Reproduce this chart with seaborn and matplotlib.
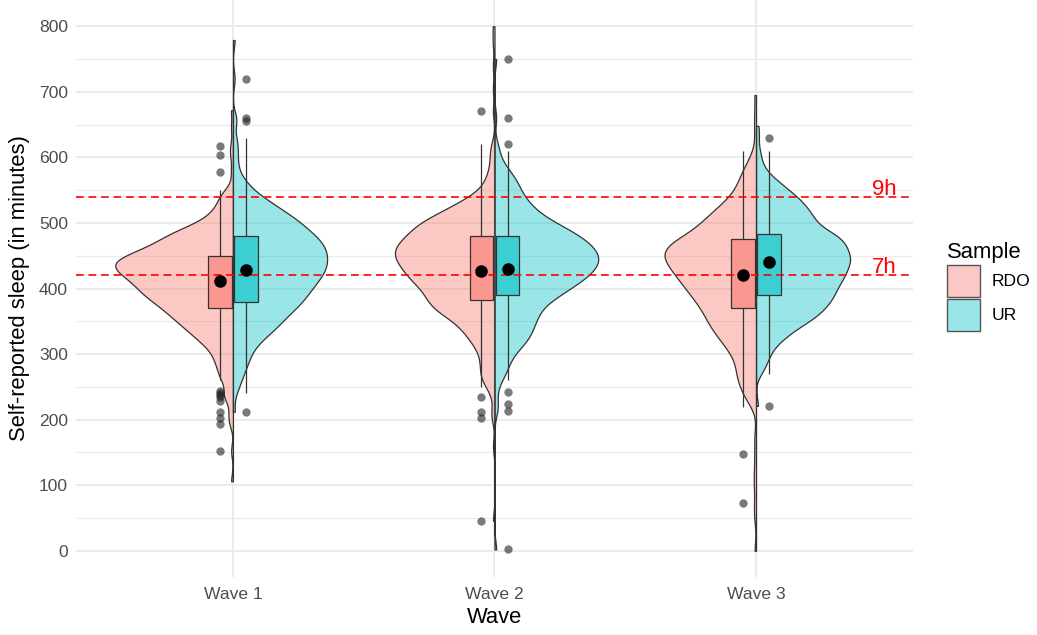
import matplotlib
matplotlib.use("Agg")
import matplotlib.pyplot as plt
from matplotlib.patches import Patch
from matplotlib.ticker import MultipleLocator
import numpy as np
import pandas as pd
import seaborn as sns

waves = ["Wave 1", "Wave 2", "Wave 3"]
samples = ["RDO", "UR"]

# sleep minutes (bin values) and how many answers fall on each
grid = [210, 220, 230, 240, 250, 260, 270, 280, 290, 300, 310, 320, 330, 340, 350,
        360, 370, 380, 390, 400, 410, 420, 430, 440, 450, 460, 470, 480, 490, 500,
        510, 520, 530, 540, 550, 560, 570, 580, 590, 600, 610, 620, 630]

w1_rdo = [0, 0, 0, 0, 0, 3, 3, 3, 4, 4, 5, 7, 8, 10, 11, 13, 14, 16, 18, 19, 20, 22,
          24, 25, 22, 18, 15, 14, 11, 7, 5, 4, 3, 3, 2, 0, 0, 0, 0, 0, 0, 0, 0]
w1_ur = [0, 0, 0, 1, 1, 2, 2, 3, 3, 4, 4, 6, 7, 9, 10, 11, 13, 14, 15, 16, 17, 18,
         19, 19, 19, 19, 18, 17, 15, 14, 12, 10, 8, 6, 4, 3, 2, 1, 1, 1, 1, 1, 1]
w2_rdo = [0, 0, 0, 0, 2, 3, 3, 3, 3, 3, 4, 5, 6, 7, 8, 11, 13, 14, 14, 15, 17, 18,
          19, 20, 21, 21, 20, 18, 17, 16, 13, 10, 8, 5, 3, 2, 2, 1, 1, 1, 1, 1, 0]
w2_ur = [0, 0, 0, 0, 0, 2, 2, 3, 3, 4, 5, 7, 7, 8, 8, 9, 9, 11, 13, 15, 17, 19,
         20, 21, 21, 20, 19, 17, 15, 12, 10, 8, 7, 6, 5, 5, 4, 3, 2, 1, 1, 0, 0]
w3_rdo = [0, 1, 2, 3, 3, 4, 4, 4, 4, 5, 6, 7, 8, 9, 10, 10, 11, 12, 13, 14, 15, 16,
          17, 18, 19, 19, 18, 14, 12, 11, 10, 8, 7, 5, 4, 4, 3, 3, 2, 1, 1, 0, 0]
w3_ur = [0, 0, 0, 0, 0, 0, 1, 2, 2, 3, 3, 5, 6, 8, 10, 12, 13, 14, 15, 15, 16, 17,
         17, 18, 18, 17, 17, 16, 13, 11, 11, 10, 9, 8, 6, 5, 3, 2, 1, 1, 1, 0, 0]

# single extreme answers (drawn as box outliers)
w1_rdo_out = [152, 193, 203, 212, 229, 234, 238, 241, 244, 578, 603, 617]
w1_ur_out = [212, 655, 660, 720]
w2_rdo_out = [46, 203, 211, 234, 670]
w2_ur_out = [2, 213, 224, 242, 621, 660, 750]
w3_rdo_out = [73, 147]
w3_ur_out = [221, 630]

# far tails only seen in the violins
w1_rdo_tail = [106, 645, 672]
w1_ur_tail = [779]
w2_rdo_tail = [160, 705, 740, 775, 800]
w2_ur_tail = []
w3_rdo_tail = [0, 50, 100, 120, 175, 640, 665, 695]
w3_ur_tail = [648]

mean_rdo = [411, 427, 420]
mean_ur = [428, 429, 440]

groups = [
    ("Wave 1", "RDO", w1_rdo, w1_rdo_out, w1_rdo_tail),
    ("Wave 1", "UR", w1_ur, w1_ur_out, w1_ur_tail),
    ("Wave 2", "RDO", w2_rdo, w2_rdo_out, w2_rdo_tail),
    ("Wave 2", "UR", w2_ur, w2_ur_out, w2_ur_tail),
    ("Wave 3", "RDO", w3_rdo, w3_rdo_out, w3_rdo_tail),
    ("Wave 3", "UR", w3_ur, w3_ur_out, w3_ur_tail),
]

box_parts, vio_parts = [], []
for wave, sample, counts, out, tail in groups:
    vals = np.concatenate([np.repeat(grid, counts), out]).astype(float)
    box_parts.append(pd.DataFrame({"Wave": wave, "Sample": sample, "minutes": vals}))
    vals = np.concatenate([vals, tail]).astype(float)
    vio_parts.append(pd.DataFrame({"Wave": wave, "Sample": sample, "minutes": vals}))
box_df = pd.concat(box_parts, ignore_index=True)
vio_df = pd.concat(vio_parts, ignore_index=True)
means_df = pd.DataFrame({"Wave": waves * 2,
                         "Sample": ["RDO"] * 3 + ["UR"] * 3,
                         "mean": mean_rdo + mean_ur})

plt.rcParams['font.family'] = ['Liberation Sans', 'DejaVu Sans']

fig = plt.figure(figsize=(10.37, 6.35), dpi=100)
ax = fig.add_axes([0.0733, 0.0913, 0.8071, 0.9087])
ax.set_axisbelow(True)

n0 = len(ax.collections)
sns.violinplot(data=vio_df, x="Wave", y="minutes", hue="Sample", order=waves,
               hue_order=samples, split=True, inner=None, cut=0,
               density_norm="area", common_norm=True, bw_adjust=0.5,
               gridsize=400, width=0.9,
               palette={"RDO": "#F8766D", "UR": "#00BFC4"}, saturation=1,
               linecolor="#333333", linewidth=0.9, legend=False, ax=ax)
for coll in ax.collections[n0:]:
    fc = coll.get_facecolor()
    fc[:, 3] = 0.4
    coll.set_facecolor(fc)

for h in [420, 540]:
    ax.axhline(h, color="red", lw=1.2, ls=(0, (4.7, 2.8)), zorder=2.5)
ax.text(2.49, 423, "7h", color="red", fontsize=16, ha="center", va="baseline")
ax.text(2.49, 543, "9h", color="red", fontsize=16, ha="center", va="baseline")

sns.boxplot(data=box_df, x="Wave", y="minutes", hue="Sample", order=waves,
            hue_order=samples, width=0.2, gap=0.1, whis=1.5, saturation=1,
            palette={"RDO": "#FA9790", "UR": "#3DCED2"}, linecolor="#333333",
            linewidth=0.9, showcaps=False, fliersize=6,
            flierprops=dict(marker="o", markerfacecolor="#222222",
                            markeredgecolor="none", alpha=0.6),
            medianprops=dict(linewidth=0), legend=False, ax=ax)

sns.pointplot(data=means_df, x="Wave", y="mean", hue="Sample", order=waves,
              hue_order=samples, palette=["black", "black"], dodge=0.1,
              linestyle="none", markers="o", markersize=7, errorbar=None,
              legend=False, zorder=5, ax=ax)

ax.set_xlim(-0.6, 2.6)
ax.set_ylim(-40, 840)
ax.yaxis.set_major_locator(MultipleLocator(100))
ax.yaxis.set_minor_locator(MultipleLocator(50))
ax.grid(True, which="major", color="#EBEBEB", lw=1.4)
ax.grid(True, which="minor", axis="y", color="#EBEBEB", lw=0.8)
ax.tick_params(which="both", length=0, labelsize=12.6, labelcolor="#4D4D4D")
ax.tick_params(axis="y", pad=5.8)
ax.tick_params(axis="x", pad=7.5)
for s in ax.spines.values():
    s.set_visible(False)

ax.set_xlabel("Wave", fontsize=15.8)
ax.set_ylabel("Self-reported sleep (in minutes)", fontsize=15.8)
ax.xaxis.set_label_coords(0.5, -0.052)
ax.yaxis.set_label_coords(-0.055, 0.5)

handles = [Patch(facecolor="#FCC8C5", edgecolor="#555555", linewidth=1.0),
           Patch(facecolor="#99E5E7", edgecolor="#555555", linewidth=1.0)]
fig.legend(handles, samples, title="Sample", loc="upper left",
           bbox_to_anchor=(947 / 1037, (635 - 242) / 635), frameon=False,
           borderpad=0, borderaxespad=0, fontsize=12.6, title_fontsize=15.8,
           handlelength=1.9, handleheight=2.44, labelspacing=0.1,
           handletextpad=0.65, alignment="left")

fig.savefig("out.png", dpi=100)
